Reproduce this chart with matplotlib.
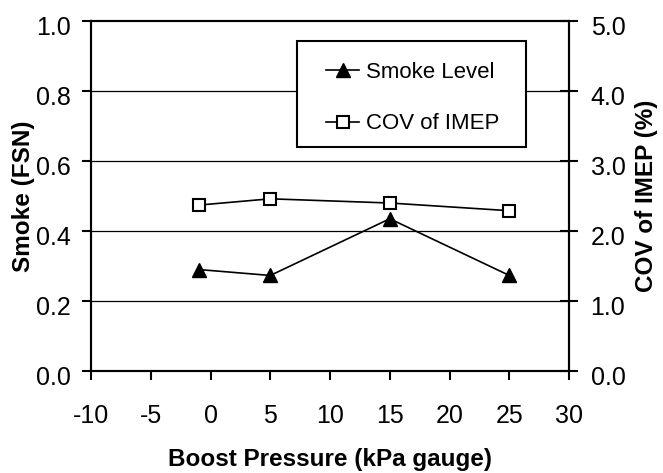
import matplotlib
matplotlib.use('Agg')
import matplotlib.pyplot as plt
import matplotlib.transforms as mtransforms
from matplotlib.patches import Rectangle

plt.rcParams['font.family'] = ['Liberation Sans', 'DejaVu Sans']

# data
boostPressure = [-1, 5, 15, 25]
smokeLevel = [0.29, 0.273, 0.435, 0.273]
covImep = [2.37, 2.46, 2.40, 2.29]

xTicks = [-10, -5, 0, 5, 10, 15, 20, 25, 30]
smokeTicks = [0.0, 0.2, 0.4, 0.6, 0.8, 1.0]
covTicks = [0.0, 1.0, 2.0, 3.0, 4.0, 5.0]

W, H = 663, 473
fig = plt.figure(figsize=(W / 100, H / 100), dpi=100)
axes = fig.add_axes([0.1373, 0.2156, 0.721, 0.740])
axes2 = axes.twinx()

# horizontal grid lines
for yValue in smokeTicks[1:-1]:
    axes.axhline(yValue, color='black', linewidth=0.9, zorder=1)

line1, = axes.plot(boostPressure, smokeLevel, color='black', linewidth=1.2,
                   marker='^', markersize=10, markerfacecolor='black',
                   markeredgecolor='black', label='Smoke Level', zorder=3)
line2, = axes2.plot(boostPressure, covImep, color='black', linewidth=1.2,
                    marker='s', markersize=8, markerfacecolor='white',
                    markeredgecolor='black', markeredgewidth=1.5,
                    label='COV of IMEP', zorder=3)

axes.set_xlim(-10, 30)
axes.set_ylim(0, 1.0)
axes2.set_ylim(0, 5.0)
axes.set_xticks(xTicks)
axes.set_xticklabels([str(v) for v in xTicks])
axes.set_yticks(smokeTicks)
axes.set_yticklabels(['%.1f' % v for v in smokeTicks])
axes2.set_yticks(covTicks)
axes2.set_yticklabels(['%.1f' % v for v in covTicks])

for ax in (axes, axes2):
    for spine in ax.spines.values():
        spine.set_linewidth(1.5)

axes.tick_params(axis='x', direction='out', length=6.5, width=1.5, pad=17, labelsize=18)
axes.tick_params(axis='y', direction='out', length=6.5, width=1.5, pad=8, labelsize=18)
axes2.tick_params(axis='y', direction='inout', length=13, width=1.5, pad=9, labelsize=18)

# tick labels sit a bit lower than the ticks in the reference
shift = mtransforms.ScaledTranslation(0, -3 / 72, fig.dpi_scale_trans)
for lab in axes.get_yticklabels() + axes2.get_yticklabels():
    lab.set_transform(lab.get_transform() + shift)

axes.set_xlabel('Boost Pressure (kPa gauge)', fontsize=17.5, fontweight='bold', labelpad=15)
axes.set_ylabel('Smoke (FSN)', fontsize=17.5, fontweight='bold', labelpad=0.5)
axes2.set_ylabel('COV of IMEP (%)', fontsize=17.5, fontweight='bold', labelpad=7)

# legend box (drawn separately so its padding can match the reference)
frame = Rectangle((297 / W, 1 - 147 / H), (526 - 297) / W, (147 - 41) / H,
                  transform=fig.transFigure, facecolor='white',
                  edgecolor='black', linewidth=1.5, zorder=4)
fig.patches.append(frame)

legend = fig.legend(handles=[line1, line2], loc='upper left',
                    bbox_to_anchor=(326 / W, 1 - 62 / H), fontsize=16,
                    handlelength=1.5, handletextpad=0.3, labelspacing=1.37,
                    borderpad=0, borderaxespad=0, frameon=False)
legend.set_zorder(5)

fig.savefig('out.png', dpi=100)
